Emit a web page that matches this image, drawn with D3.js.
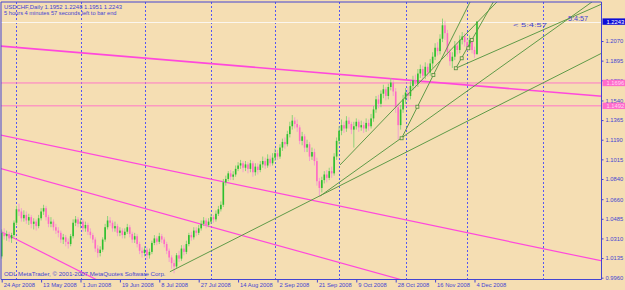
<!DOCTYPE html>
<html>
<head>
<meta charset="utf-8">
<script src="https://cdn.jsdelivr.net/npm/d3@7"></script>
<style>
  body { margin: 0; background: #f5deb3; }
  svg { display: block; font-family: "Liberation Sans", Arial, sans-serif; }
</style>
</head>
<body>
<script>
// USDCHF daily, one bar per trading day (Sun-Fri), bar 0 = 24 Apr 2008
const firstOpen = 1.015;
const closes = [
  1.036,1.033,1.035,1.031,1.034,1.045,1.057,1.055,1.049,1.052,
  1.047,1.050,1.044,1.046,1.042,1.049,1.055,1.058,1.050,1.044,
  1.046,1.041,1.038,1.036,1.030,1.032,1.028,1.026,1.033,1.045,
  1.048,1.044,1.046,1.040,1.043,1.037,1.034,1.030,1.022,1.018,
  1.021,1.030,1.041,1.047,1.045,1.040,1.042,1.036,1.038,1.034,
  1.037,1.041,1.035,1.030,1.033,1.026,1.020,1.018,1.021,1.016,
  1.019,1.027,1.031,1.028,1.033,1.030,1.026,1.020,1.014,1.009,
  1.006,1.016,1.013,1.022,1.019,1.026,1.034,1.032,1.038,1.036,
  1.040,1.044,1.047,1.043,1.046,1.050,1.048,1.053,1.057,1.061,
  1.081,1.084,1.089,1.086,1.088,1.093,1.096,1.098,1.094,1.097,
  1.093,1.098,1.090,1.095,1.092,1.097,1.100,1.096,1.102,1.098,
  1.103,1.107,1.104,1.112,1.117,1.115,1.124,1.131,1.136,1.133,
  1.130,1.118,1.122,1.112,1.115,1.104,1.108,1.100,1.082,1.076,
  1.083,1.088,1.085,1.091,1.089,1.104,1.118,1.127,1.132,1.129,
  1.136,1.133,1.128,1.131,1.135,1.130,1.132,1.129,1.134,1.131,
  1.138,1.146,1.155,1.151,1.160,1.164,1.158,1.166,1.170,1.162,
  1.148,1.132,1.146,1.155,1.161,1.158,1.167,1.172,1.169,1.178,
  1.182,1.176,1.184,1.179,1.187,1.193,1.201,1.198,1.209,1.221,
  1.214,1.197,1.189,1.193,1.203,1.199,1.208,1.211,1.206,1.202,
  1.208,1.199,1.1952,1.2243
];
const highs = [
  1.039,1.040,1.038,1.037,1.036,1.047,1.060,1.062,1.058,1.056,
  1.055,1.053,1.052,1.049,1.048,1.052,1.058,1.061,1.060,1.052,
  1.050,1.048,1.044,1.041,1.038,1.035,1.034,1.031,1.035,1.048,
  1.051,1.050,1.049,1.048,1.046,1.045,1.040,1.036,1.032,1.025,
  1.024,1.032,1.044,1.051,1.050,1.047,1.046,1.044,1.041,1.040,
  1.040,1.044,1.043,1.037,1.036,1.035,1.028,1.023,1.024,1.023,
  1.022,1.029,1.034,1.033,1.036,1.035,1.032,1.028,1.022,1.016,
  1.012,1.018,1.020,1.025,1.025,1.029,1.036,1.037,1.041,1.041,
  1.043,1.047,1.050,1.049,1.049,1.053,1.052,1.056,1.060,1.064,
  1.084,1.087,1.091,1.092,1.091,1.096,1.099,1.101,1.100,1.100,
  1.099,1.101,1.100,1.098,1.098,1.100,1.104,1.103,1.106,1.105,
  1.107,1.111,1.110,1.115,1.120,1.121,1.127,1.135,1.141,1.139,
  1.137,1.132,1.126,1.124,1.119,1.117,1.112,1.111,1.103,1.085,
  1.086,1.091,1.092,1.094,1.095,1.107,1.121,1.131,1.137,1.135,
  1.140,1.139,1.135,1.135,1.138,1.137,1.136,1.135,1.138,1.137,
  1.142,1.149,1.158,1.159,1.163,1.168,1.166,1.169,1.174,1.172,
  1.165,1.151,1.150,1.159,1.165,1.166,1.171,1.176,1.177,1.182,
  1.186,1.185,1.188,1.187,1.191,1.197,1.205,1.206,1.213,1.227,
  1.225,1.217,1.200,1.197,1.207,1.206,1.212,1.215,1.214,1.209,
  1.212,1.210,1.202,1.2248
];
const lows = [
  1.013,1.030,1.029,1.028,1.027,1.032,1.043,1.051,1.046,1.046,
  1.044,1.043,1.040,1.039,1.038,1.040,1.047,1.052,1.047,1.041,
  1.041,1.038,1.035,1.032,1.027,1.026,1.024,1.022,1.024,1.031,
  1.042,1.041,1.040,1.037,1.037,1.034,1.031,1.027,1.019,1.014,
  1.015,1.019,1.028,1.039,1.042,1.037,1.037,1.033,1.033,1.031,
  1.031,1.035,1.032,1.027,1.027,1.023,1.017,1.014,1.015,1.012,
  1.013,1.017,1.025,1.025,1.026,1.027,1.023,1.017,1.010,1.004,
  1.000,1.004,1.010,1.011,1.016,1.017,1.024,1.029,1.030,1.033,
  1.034,1.038,1.042,1.040,1.041,1.044,1.045,1.046,1.051,1.055,
  1.059,1.078,1.082,1.083,1.083,1.086,1.091,1.093,1.090,1.091,
  1.089,1.090,1.086,1.087,1.088,1.090,1.094,1.093,1.094,1.095,
  1.096,1.100,1.101,1.102,1.109,1.111,1.113,1.121,1.128,1.129,
  1.126,1.115,1.114,1.108,1.108,1.100,1.101,1.096,1.078,1.068,
  1.072,1.080,1.081,1.083,1.085,1.087,1.101,1.115,1.123,1.125,
  1.126,1.129,1.124,1.112,1.128,1.126,1.127,1.125,1.126,1.127,
  1.129,1.135,1.143,1.147,1.148,1.156,1.154,1.155,1.163,1.158,
  1.143,1.119,1.128,1.143,1.151,1.153,1.155,1.163,1.165,1.166,
  1.174,1.172,1.173,1.175,1.176,1.183,1.190,1.194,1.195,1.206,
  1.208,1.193,1.185,1.183,1.190,1.195,1.196,1.204,1.202,1.198,
  1.199,1.196,1.192,1.1951
];

// axis labels
const dateBars = [0,16,32,48,64,80,96,112,128,144,160,176,192];
const dateLabels = ['24 Apr 2008','13 May 2008','1 Jun 2008','19 Jun 2008','8 Jul 2008','27 Jul 2008',
  '14 Aug 2008','2 Sep 2008','21 Sep 2008','9 Oct 2008','28 Oct 2008','16 Nov 2008','4 Dec 2008'];
const priceLabels = ['1.2070','1.1895','1.1720','1.1540','1.1365','1.1190','1.1015',
  '1.0840','1.0660','1.0485','1.0310','1.0135','0.9960'];
const monthBars = [6,32,58,85,111,137,164,189,220];  // grid at month starts

// objects on chart: [bar1, price1, bar2, price2]
const hLines = [1.1696, 1.1492];
const pinkLines = [
  [-0.7, 1.2025, 243.8, 1.1577],
  [-0.7, 1.1232, 243.8, 1.0109],
  [-0.7, 1.0935, 162.6, 0.9940],
  [-0.7, 1.0376, 38.7, 0.9940]
];
const greenRays = [
  [68.3, 1.0013, 243.8, 1.1963],
  [129.3, 1.0688, 239.7, 1.2418],
  [137.4, 1.0965, 201.1, 1.2418],
  [162.4, 1.1203, 175.3, 1.1767],
  [184.4, 1.1827, 230.8, 1.2275],
  [184.4, 1.1827, 190.9, 1.2079]
];
const anchorPts = [[162.4,1.1203],[168.8,1.1484],[175.3,1.1767],[184.4,1.1827],
  [186.8,1.1916],[189.5,1.2005],[190.9,1.2079]];
const bar = {open: 1.1952, high: 1.2248, low: 1.1951, close: 1.2243};

const W = 625, H = 290;
const frame = {left: 1, top: 2, right: 601.5, bottom: 279.5};
const fg = '#4444d2';

const svg = d3.select('body').append('svg').attr('width', W).attr('height', H);
svg.append('rect').attr('width', W).attr('height', H).attr('fill', '#f5deb3');

const x = d3.scaleLinear().domain([0, 244]).range([1.7, 602.55]);
const y = d3.scaleLinear().domain([0.996, 1.207]).range([277.7, 41]);

svg.append('clipPath').attr('id', 'clip').append('rect')
  .attr('x', frame.left).attr('y', frame.top)
  .attr('width', frame.right - frame.left).attr('height', frame.bottom - frame.top);
const g = svg.append('g').attr('clip-path', 'url(#clip)');

// month grid
g.selectAll('.grid').data(monthBars).join('line')
  .attr('x1', d => Math.round(x(d)) + 0.5).attr('x2', d => Math.round(x(d)) + 0.5)
  .attr('y1', frame.top).attr('y2', frame.bottom)
  .attr('stroke', '#5656f2').attr('stroke-dasharray', '2,2');

// horizontal lines
g.selectAll('.hl').data(hLines).join('line')
  .attr('x1', 0).attr('x2', frame.right)
  .attr('y1', d => y(d)).attr('y2', d => y(d))
  .attr('stroke', '#ff78c8').attr('stroke-width', 1);

// bid line
g.append('line').attr('x1', 0).attr('x2', frame.right)
  .attr('y1', Math.round(y(bar.close)) + 0.5).attr('y2', Math.round(y(bar.close)) + 0.5)
  .attr('stroke', '#fbf6ee').attr('stroke-width', 1);

const extend = (l, b) => l[1] + (l[3] - l[1]) * (b - l[0]) / (l[2] - l[0]);

g.selectAll('.pink').data(pinkLines).join('line')
  .attr('x1', d => x(-10)).attr('y1', d => y(extend(d, -10)))
  .attr('x2', d => x(260)).attr('y2', d => y(extend(d, 260)))
  .attr('stroke', '#ff48dc').attr('stroke-width', (d, i) => i === 0 ? 1.6 : 1.2);

// candles
const idx = d3.range(closes.length);
const opens = idx.map(i => i ? closes[i - 1] : firstOpen);
const up = i => closes[i] >= opens[i];

g.selectAll('.wick').data(idx).join('line')
  .attr('x1', i => x(i)).attr('x2', i => x(i))
  .attr('y1', i => y(highs[i])).attr('y2', i => y(lows[i]))
  .attr('stroke', i => up(i) ? '#8fd27a' : '#f2a0cf').attr('stroke-width', 1);

g.selectAll('.body').data(idx).join('rect')
  .attr('x', i => x(i) - 0.8).attr('width', 1.6)
  .attr('y', i => y(Math.max(opens[i], closes[i])))
  .attr('height', i => Math.max(1, Math.abs(y(opens[i]) - y(closes[i]))))
  .attr('fill', i => up(i) ? '#2cbf2c' : '#ff6ac4');

// green trend rays
g.selectAll('.ray').data(greenRays).join('line')
  .attr('x1', d => x(d[0])).attr('y1', d => y(d[1]))
  .attr('x2', d => x(300)).attr('y2', d => y(extend(d, 300)))
  .attr('stroke', '#5f9a48').attr('stroke-width', 1);

g.selectAll('.anchor').data(anchorPts).join('rect')
  .attr('x', d => x(d[0]) - 1.5).attr('y', d => y(d[1]) - 1.5)
  .attr('width', 3).attr('height', 3)
  .attr('fill', '#f5deb3').attr('stroke', '#4f8f3a').attr('stroke-width', 0.8);

// frame
svg.append('path')
  .attr('d', `M${frame.left},${frame.bottom}V${frame.top}H${frame.right}V${frame.bottom}H${frame.left}`)
  .attr('fill', 'none').attr('stroke', fg).attr('stroke-width', 1);

// price axis
const yAxis = d3.axisRight(y).tickValues(priceLabels.map(Number))
  .tickFormat((d, i) => priceLabels[i]).tickSize(2).tickPadding(2);
const gy = svg.append('g').attr('transform', `translate(${frame.right},0)`).call(yAxis);
gy.select('.domain').remove();
gy.selectAll('line').attr('stroke', fg);
gy.selectAll('text').attr('fill', fg).attr('font-size', 5.8).attr('font-family', null);

// time axis
const xAxis = d3.axisBottom(x).tickValues(dateBars)
  .tickFormat((d, i) => dateLabels[i]).tickSize(3).tickPadding(1);
const gx = svg.append('g').attr('transform', `translate(0,${frame.bottom})`).call(xAxis);
gx.select('.domain').remove();
gx.selectAll('line').attr('stroke', fg);
gx.selectAll('text').attr('fill', fg).attr('font-size', 5.8).attr('font-family', null)
  .attr('text-anchor', 'start').attr('dx', 1.5).attr('y', 3.5);

// price tags on the right
const tags = [
  {v: bar.close, fill: '#0c0cd8', color: '#ffffff'},
  {v: hLines[0], fill: '#ff6ccc', color: '#ffd6f0'},
  {v: hLines[1], fill: '#ff6ccc', color: '#ffd6f0'}
];
const tg = svg.selectAll('.tag').data(tags).join('g')
  .attr('transform', d => `translate(${frame.right + 1},${y(d.v)})`);
tg.append('rect').attr('x', 0).attr('y', -3.2).attr('width', 23).attr('height', 6.4)
  .attr('fill', d => d.fill);
tg.append('text').attr('x', 4).attr('dy', '0.35em').attr('font-size', 5.8)
  .attr('fill', d => d.color).text(d => d.v.toFixed(4));

// texts
const txt = (s, tx, ty, len, size) => svg.append('text')
  .attr('x', tx).attr('y', ty).attr('font-size', size || 5.8).attr('fill', fg)
  .attr('textLength', len).attr('lengthAdjust', 'spacingAndGlyphs').text(s);

txt(`USDCHF,Daily  ${bar.open.toFixed(4)} ${bar.high.toFixed(4)} ${bar.low.toFixed(4)} ${bar.close.toFixed(4)}`, 4, 8.5, 118);
txt('5 hours 4 minutes 57 seconds left to bar end', 4, 15, 112.5);
txt('ODL MetaTrader, \u00a9 2001-2007 MetaQuotes Software Corp.', 4, 276, 161.5);
txt('<  5:4:57', 513, 27, 34);
txt('5:4:57', 568, 20.5, 20, 6.5);
</script>
</body>
</html>
